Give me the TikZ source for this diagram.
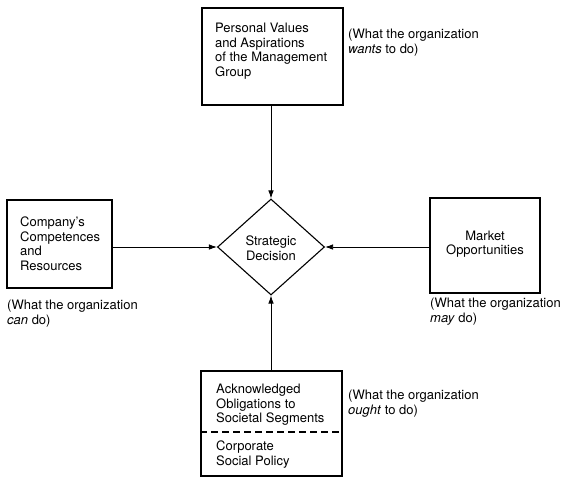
\documentclass[tikz,border=0pt]{standalone}
\usepackage{fontspec}
\setmainfont{TeX Gyre Heros}
\usetikzlibrary{shapes.geometric,arrows.meta}
\begin{document}
\begin{tikzpicture}[x=1pt,y=-1pt,
  box/.style={draw,line width=1.1pt,inner sep=0pt},
  txt/.style={font=\fontsize{13}{14.5}\selectfont,align=left,inner sep=0pt,anchor=north west},
  ctxt/.style={font=\fontsize{13}{14.5}\selectfont,align=center,inner sep=0pt},
  conn/.style={line width=0.8pt,-{Latex[length=8pt,width=5.5pt]}}]
\useasboundingbox (0,0) rectangle (563,488);
% boxes
\node[box,minimum width=141pt,minimum height=97pt] (top) at (272.5,56.5) {};
\node[box,minimum width=105pt,minimum height=88pt] (left) at (59.5,244) {};
\node[box,minimum width=110pt,minimum height=95pt] (right) at (485,245.5) {};
\node[box,minimum width=141pt,minimum height=105pt] (bot) at (271.5,423.5) {};
\node[draw,line width=1.1pt,diamond,inner sep=0pt,minimum width=107pt,minimum height=96pt] (dec) at (271,247) {};
% texts
\node[txt] (ttop) at (215,23) {Personal Values\\and Aspirations\\of the Management\\Group};
\node[txt] (tleft) at (20,217) {Company's\\Competences\\and\\Resources};
\node[ctxt] (tright) at (485,244) {Market\\Opportunities};
\node[ctxt] (tdec) at (271,248) {Strategic\\Decision};
\node[txt] (tbot1) at (216,384) {Acknowledged\\Obligations to\\Societal Segments};
\node[txt] (tbot2) at (216,441) {Corporate\\Social Policy};
\draw[dashed,line width=1.1pt,dash pattern=on 7pt off 4pt] (bot.west |- 0,432) -- (bot.east |- 0,432);
% side labels
\node[txt] (ltop) at (348,29) {(What the organization\\\textit{wants} to do)};
\node[txt] (lleft) at (7,300) {(What the organization\\\textit{can} do)};
\node[txt] (lright) at (430,298) {(What the organization\\\textit{may} do)};
\node[txt] (lbot) at (348,390) {(What the organization\\\textit{ought} to do)};
% connectors
\draw[conn] (top.south -| dec.north) -- (dec.north);
\draw[conn] (bot.north -| dec.south) -- (dec.south);
\draw[conn] (left.east |- dec.west) -- (dec.west);
\draw[conn] (right.west |- dec.east) -- (dec.east);
\end{tikzpicture}
\end{document}
